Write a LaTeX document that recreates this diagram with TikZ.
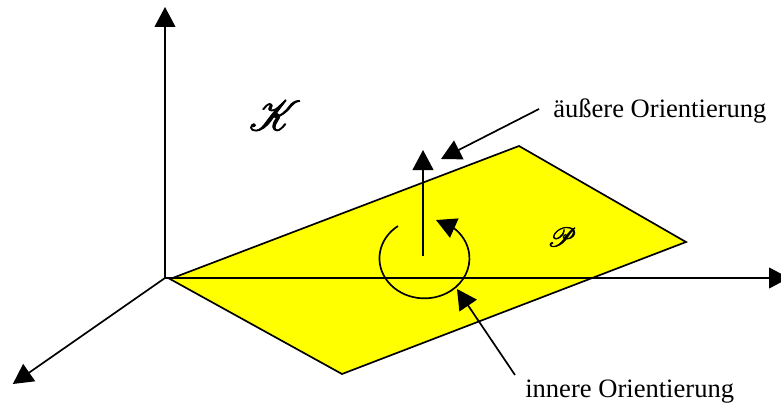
\documentclass[tikz,border=0pt]{standalone}
\usepackage{fontspec}
\setmainfont{Liberation Serif}
\usepackage{mathrsfs}
\usepackage{tikz}
\usetikzlibrary{arrows.meta}
\definecolor{planeyellow}{RGB}{255,255,0}
\newcommand{\heavytext}[1]{\special{pdf:code 2 Tr 0.22 w}#1\special{pdf:code 0 Tr}}

\begin{document}
\begin{tikzpicture}[
  arr/.style ={-{Triangle[length=0.5cm,width=0.52cm]}, line width=1.2pt, black},
  plane/.style={draw=black, fill=planeyellow, line width=1.2pt},
  lbl/.style ={font=\fontsize{18.9}{22}\selectfont, inner sep=0pt, anchor=base west},
  sym/.style ={inner sep=0pt}
]
\useasboundingbox (0,0) rectangle (19.525,10.125);

%% -- coordinates
\coordinate (o)   at (4.125, 3.175);
\coordinate (ztip) at (4.125, 9.95);
\coordinate (xtip) at (19.725,3.175);
\coordinate (ytip) at (0.32,  0.525);

\coordinate (pa) at (4.25,  3.15);
\coordinate (pb) at (12.975,6.475);
\coordinate (pc) at (17.15, 4.075);
\coordinate (pd) at (8.55,  0.775);

\coordinate (nfoot) at (10.575,3.725);
\coordinate (ntip)  at (10.575,6.375);

%% -- axes and plane
\draw[arr] (o) -- (ztip);
\draw[arr] (o) -- (ytip);
\draw[plane] (pa) -- (pb) -- (pc) -- (pd) -- cycle;
\draw[arr] (o) -- (xtip);

%% -- orientations
\draw[arr] (nfoot) -- (ntip);
\coordinate (cstart) at (9.95,4.475);
\coordinate (ctip)   at (10.9,4.625);
\draw[arr] (cstart) arc[start angle=126, end angle=410, x radius=1.125cm, y radius=1cm] -- (ctip);

%% -- labels
\node[lbl] (aussen) at (13.825,7.2) {äußere Orientierung};
\node[lbl] (innen)  at (13.125,0.2) {innere Orientierung};
\coordinate (atip) at (11.025,6.15);
\coordinate (itip) at (11.425,2.9);
\coordinate (afoot) at (13.475,7.4);
\coordinate (ifoot) at (12.875,0.75);
\draw[arr] (afoot) -- (atip);
\draw[arr] (ifoot) -- (itip);

\node[sym, scale=3.0] (raum)  at (6.875,7.24) {\heavytext{$\mathscr{K}$}};
\node[sym, scale=1.9] (ebene) at (14.05,4.2) {\heavytext{$\mathscr{P}$}};

\end{tikzpicture}
\end{document}
